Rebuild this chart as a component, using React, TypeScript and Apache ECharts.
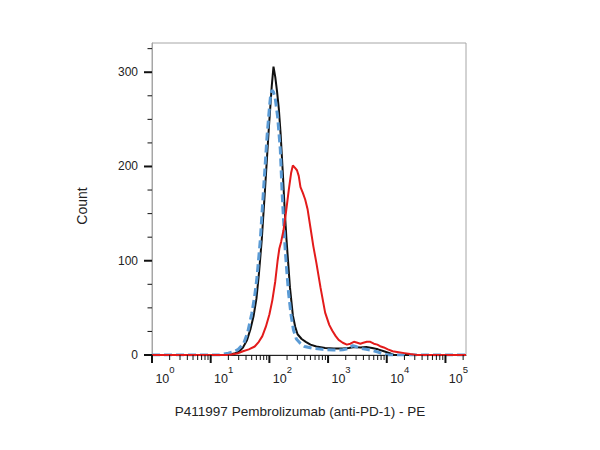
import React, { useEffect, useRef } from "react";
import * as echarts from "echarts";

// x values are log10 of PE fluorescence intensity
const blackX = [0, 1.30, 1.40, 1.48, 1.55, 1.62, 1.68, 1.73, 1.78, 1.82, 1.87, 1.93, 1.99, 2.04, 2.07, 2.10, 2.13, 2.16, 2.19, 2.23, 2.26, 2.29, 2.32, 2.35, 2.40, 2.44, 2.48, 2.55, 2.62, 2.70, 2.80, 2.95, 3.10, 3.25, 3.35, 3.45, 3.55, 3.65, 3.75, 3.85, 3.95, 4.05, 4.12, 5.35];
const blackY = [0, 0, 1.5, 3.5, 8, 16, 28, 41, 60, 85, 122, 180, 240, 285, 306, 295, 280, 262, 236, 192, 155, 124, 98, 72, 42, 30, 22, 17, 14, 11, 9, 7.5, 7, 7, 7.5, 8.5, 8, 8.5, 7.5, 6, 4, 2, 0, 0];

const blueX = [0, 1.15, 1.22, 1.30, 1.39, 1.47, 1.56, 1.63, 1.70, 1.75, 1.79, 1.845, 1.90, 1.96, 2.00, 2.02, 2.044, 2.07, 2.10, 2.14, 2.186, 2.215, 2.24, 2.27, 2.30, 2.328, 2.37, 2.41, 2.46, 2.526, 2.60, 2.75, 2.90, 3.09, 3.25, 3.35, 3.42, 3.47, 3.55, 3.65, 3.75, 3.85, 3.95, 4.02, 5.35];
const blueY = [0, 0, 1, 2, 3.5, 6, 12, 24, 44, 63, 83, 122, 175, 232, 262, 275, 281, 279, 272, 253, 218, 175, 145, 111, 86, 65, 42, 26.5, 17, 12.4, 9, 7, 6, 5.3, 5.5, 7, 10, 9, 7, 6, 5, 3, 1, 0, 0];

const redX = [0, 1.30, 1.45, 1.55, 1.65, 1.75, 1.82, 1.88, 1.94, 2.00, 2.05, 2.10, 2.14, 2.17, 2.20, 2.24, 2.28, 2.33, 2.37, 2.40, 2.43, 2.47, 2.50, 2.53, 2.57, 2.61, 2.65, 2.70, 2.75, 2.80, 2.87, 2.95, 3.02, 3.07, 3.13, 3.18, 3.25, 3.32, 3.38, 3.44, 3.50, 3.55, 3.60, 3.66, 3.72, 3.78, 3.84, 3.90, 3.95, 4.02, 4.10, 4.20, 4.30, 4.40, 4.51, 5.35];
const redY = [0, 0, 1.5, 4, 6, 9, 14, 20, 30, 43, 58, 78, 100, 113, 120, 132, 150, 175, 193, 201, 199, 196, 190, 178, 172, 165, 155, 135, 115, 98, 72, 45, 32, 26, 20, 16, 13, 11, 12, 14, 13, 12, 13, 14, 14, 12, 11, 9, 8, 6, 4, 3, 2, 1, 0, 0];

const decades = [0, 1, 2, 3, 4, 5];
const minorMultipliers = [2, 3, 4, 5, 6, 7, 8, 9];
const yMajorTicks = [0, 100, 200, 300];
const yMinorTicks = [25, 50, 75, 125, 150, 175, 225, 250, 275, 325];

const X_MAX = 5.35;
const Y_MAX = 331;
const xTitle = "P411997 Pembrolizumab (anti-PD-1) - PE";
const yTitle = "Count";
const FONT = "'Liberation Sans', Arial, sans-serif";

const zip = (xs: number[], ys: number[]) => xs.map((x, i) => [x, ys[i]]);

export default function App() {
  const ref = useRef<HTMLDivElement>(null);
  useEffect(() => {
    document.body.style.margin = "0";
    if (!ref.current) return;
    const chart = echarts.init(ref.current, null, { renderer: "svg" });

    const xTicks: number[][] = [];
    decades.forEach((d) => {
      xTicks.push([d, 1]);
      minorMultipliers.forEach((m) => {
        const p = d + Math.log10(m);
        if (p <= X_MAX) xTicks.push([p, 0]);
      });
    });
    const yTicks: number[][] = [
      ...yMajorTicks.map((v) => [v, 1]),
      ...yMinorTicks.map((v) => [v, 0]),
    ];

    chart.setOption({
      animation: false,
      grid: {
        left: 152,
        right: 134,
        top: 43,
        bottom: 95,
        show: true,
        borderColor: "#a6a6a6",
        borderWidth: 1,
        backgroundColor: "#fff",
      },
      xAxis: {
        type: "value",
        min: 0,
        max: X_MAX,
        interval: 1,
        splitLine: { show: false },
        axisTick: { show: false },
        axisLine: { show: true, lineStyle: { color: "#222", width: 1 } },
        axisLabel: {
          margin: 9,
          showMaxLabel: false,
          formatter: (v: number) =>
            Math.abs(v - Math.round(v)) < 1e-6 ? `{sp|}{b|10}{s|${Math.round(v)}}` : "",
          rich: {
            sp: { width: 26 },
            b: { fontSize: 12.5, color: "#222", fontFamily: FONT, padding: [8, 0, 0, 0], verticalAlign: "bottom" },
            s: { fontSize: 9.5, color: "#222", fontFamily: FONT, verticalAlign: "top" },
          },
        },
      },
      yAxis: {
        type: "value",
        min: 0,
        max: Y_MAX,
        interval: 100,
        splitLine: { show: false },
        axisTick: { show: false },
        axisLine: { show: true, lineStyle: { color: "#a6a6a6", width: 1 } },
        axisLabel: {
          margin: 14,
          fontSize: 12,
          color: "#222",
          fontFamily: FONT,
          showMaxLabel: false,
          formatter: (v: number) => (v % 100 === 0 ? String(v) : ""),
        },
      },
      graphic: [
        {
          type: "text",
          x: 82,
          y: 206,
          rotation: Math.PI / 2,
          style: {
            text: yTitle,
            fontSize: 14,
            fontFamily: FONT,
            fill: "#222",
            textAlign: "center",
            textVerticalAlign: "middle",
          },
        },
        {
          type: "text",
          x: 300,
          y: 411,
          style: {
            text: xTitle,
            fontSize: 13.5,
            fontFamily: FONT,
            fill: "#222",
            textAlign: "center",
            textVerticalAlign: "middle",
          },
        },
      ],
      series: [
        {
          type: "line",
          data: zip(blackX, blackY),
          symbol: "none",
          lineStyle: { color: "#111", width: 2 },
          z: 3,
        },
        {
          type: "line",
          data: zip(blueX, blueY),
          symbol: "none",
          lineStyle: { color: "#5b9bd5", width: 3, type: [8, 4] },
          z: 4,
        },
        {
          type: "line",
          data: zip(redX, redY),
          symbol: "none",
          lineStyle: { color: "#e31b1b", width: 2 },
          z: 5,
        },
        {
          type: "custom",
          data: xTicks,
          clip: false,
          z: 6,
          renderItem: (_p: any, api: any) => {
            const major = api.value(1) === 1;
            const pt = api.coord([api.value(0), 0]);
            return {
              type: "line",
              shape: { x1: pt[0], y1: pt[1], x2: pt[0], y2: pt[1] + (major ? 8 : 5) },
              style: { stroke: "#111", lineWidth: major ? 2 : 1 },
            };
          },
        },
        {
          type: "custom",
          data: yTicks,
          clip: false,
          z: 6,
          encode: { x: 1, y: 0 },
          renderItem: (_p: any, api: any) => {
            const major = api.value(1) === 1;
            const pt = api.coord([0, api.value(0)]);
            return {
              type: "line",
              shape: { x1: pt[0] - (major ? 8 : 4.5), y1: pt[1], x2: pt[0], y2: pt[1] },
              style: { stroke: "#111", lineWidth: major ? 2 : 1 },
            };
          },
        },
      ],
    });
    return () => chart.dispose();
  }, []);
  return <div ref={ref} style={{ width: 600, height: 450 }} />;
}
